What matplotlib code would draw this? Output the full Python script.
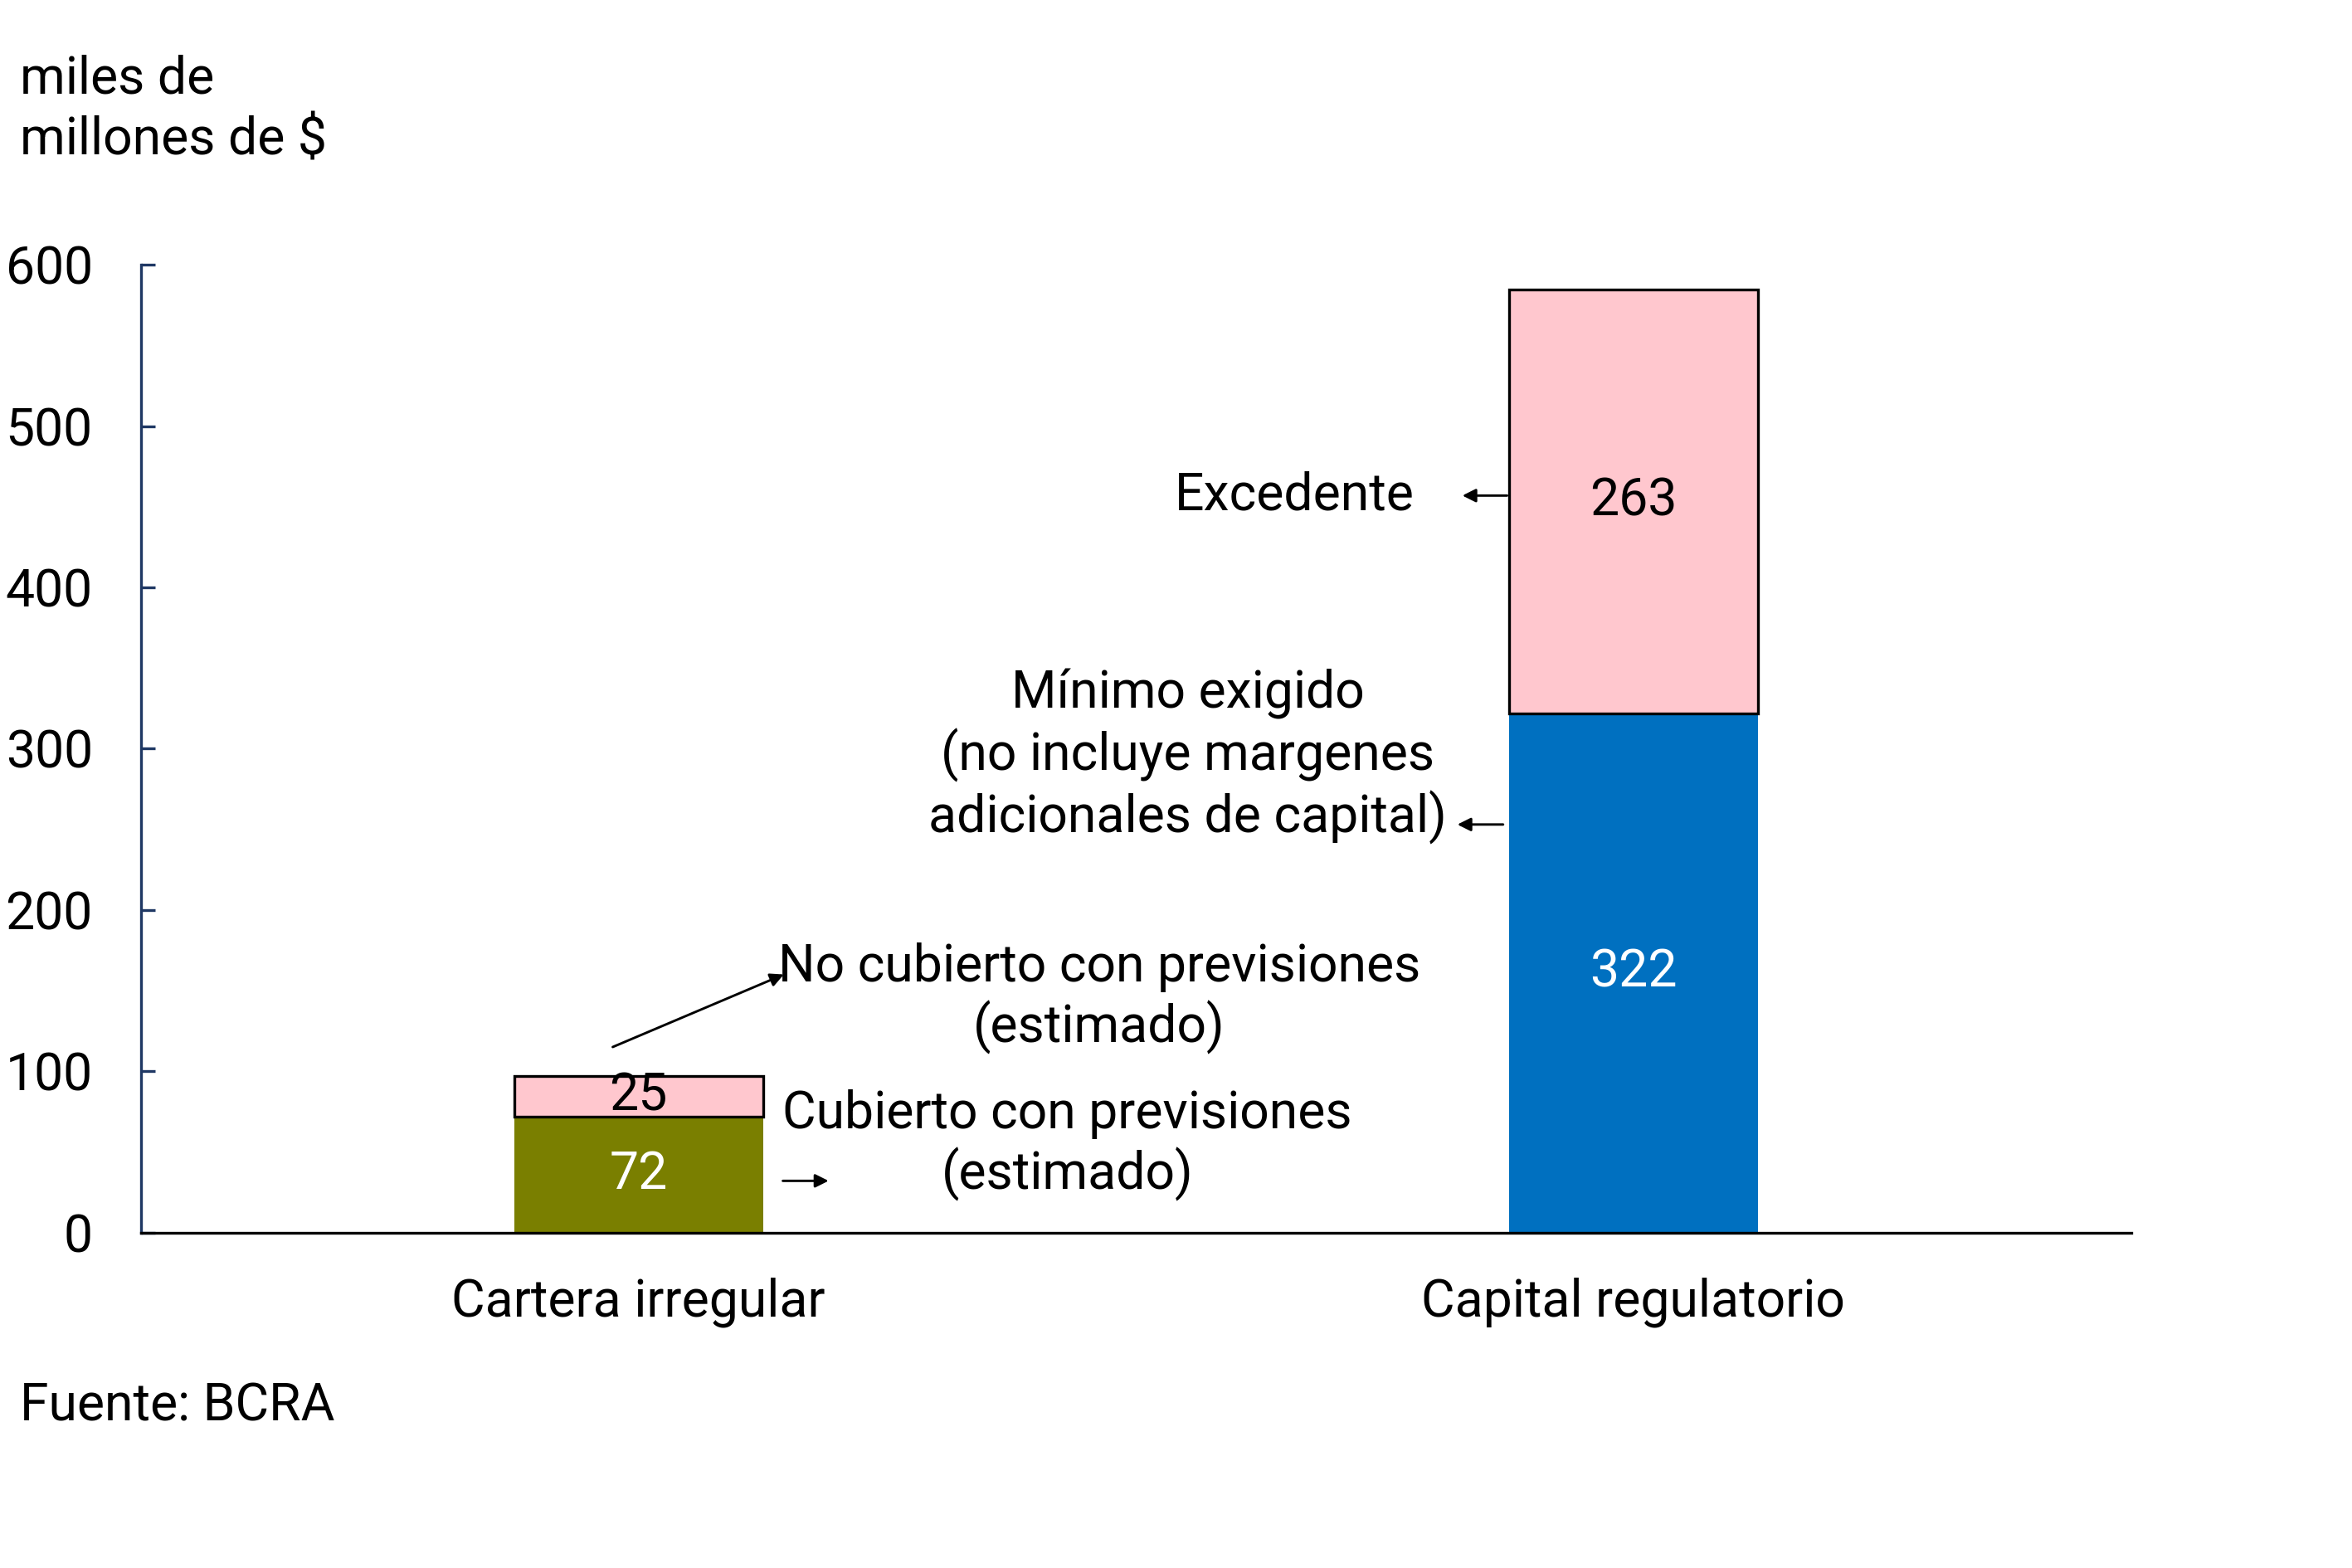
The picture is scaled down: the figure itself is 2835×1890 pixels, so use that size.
import matplotlib.pyplot as plt

plt.rcParams['font.family'] = ['Roboto', 'DejaVu Sans']

# datos
categorias = ["Cartera irregular", "Capital regulatorio"]
base_vals = [72, 322]      # cubierto con previsiones / minimo exigido
tope_vals = [25, 263]      # no cubierto / excedente
base_colores = ["#7A7F00", "#0070C0"]
color_tope = "#FFC7CE"
y_ticks = [0, 100, 200, 300, 400, 500, 600]


def main():
    fig = plt.figure(figsize=(9.45, 6.3), dpi=300)
    ax = fig.add_axes([0.060, 0.214, 0.846, 0.617])

    x = list(range(len(categorias)))
    ax.bar(x, base_vals, width=0.25, color=base_colores, linewidth=0)
    ax.bar(x, tope_vals, width=0.25, bottom=base_vals, color=color_tope,
           edgecolor="black", linewidth=0.8)

    # etiquetas de valores
    for i in x:
        ax.text(i, base_vals[i] / 2, str(base_vals[i]), ha="center", va="center",
                color="white", fontsize=15)
        ax.text(i, base_vals[i] + tope_vals[i] / 2, str(tope_vals[i]), ha="center",
                va="center", color="black", fontsize=15)

    ax.set_xlim(-0.5, 1.5)
    ax.set_ylim(0, 600)
    ax.set_yticks(y_ticks)
    ax.set_xticks(x)
    ax.set_xticklabels(categorias, fontsize=15)
    ax.tick_params(axis="x", length=0, pad=13)
    ax.tick_params(axis="y", direction="in", length=4, width=0.8, color="#1F3864",
                   labelsize=15, pad=14)

    ax.spines["top"].set_visible(False)
    ax.spines["right"].set_visible(False)
    ax.spines["left"].set_color("#1F3864")
    ax.spines["left"].set_linewidth(0.8)
    ax.spines["bottom"].set_linewidth(0.8)

    flecha = dict(arrowstyle="-|>", color="black", lw=0.7, mutation_scale=8,
                  shrinkA=0, shrinkB=0)

    # anotaciones
    ax.text(0.780, 457, "Excedente", ha="right", va="center", fontsize=15)
    ax.annotate("", xy=(0.828, 457), xytext=(0.873, 457), arrowprops=flecha)

    ax.text(0.552, 295, "Mínimo exigido\n(no incluye margenes\nadicionales de capital)",
            ha="center", va="center", fontsize=15, linespacing=1.2)
    ax.annotate("", xy=(0.823, 253), xytext=(0.869, 253), arrowprops=flecha)

    ax.text(0.463, 145, "No cubierto con previsiones\n(estimado)", ha="center",
            va="center", fontsize=15, linespacing=1.2)
    ax.annotate("", xy=(0.146, 160), xytext=(-0.026, 115), arrowprops=flecha)

    ax.text(0.431, 54, "Cubierto con previsiones\n(estimado)", ha="center",
            va="center", fontsize=15, linespacing=1.2)
    ax.annotate("", xy=(0.191, 32), xytext=(0.145, 32), arrowprops=flecha)

    fig.text(0.0084, 0.930, "miles de\nmillones de $", ha="left", va="center",
             fontsize=15, linespacing=1.3)
    fig.text(0.0084, 0.103, "Fuente: BCRA", ha="left", va="center", fontsize=15)

    fig.savefig("out.png", dpi=300)


if __name__ == "__main__":
    main()
